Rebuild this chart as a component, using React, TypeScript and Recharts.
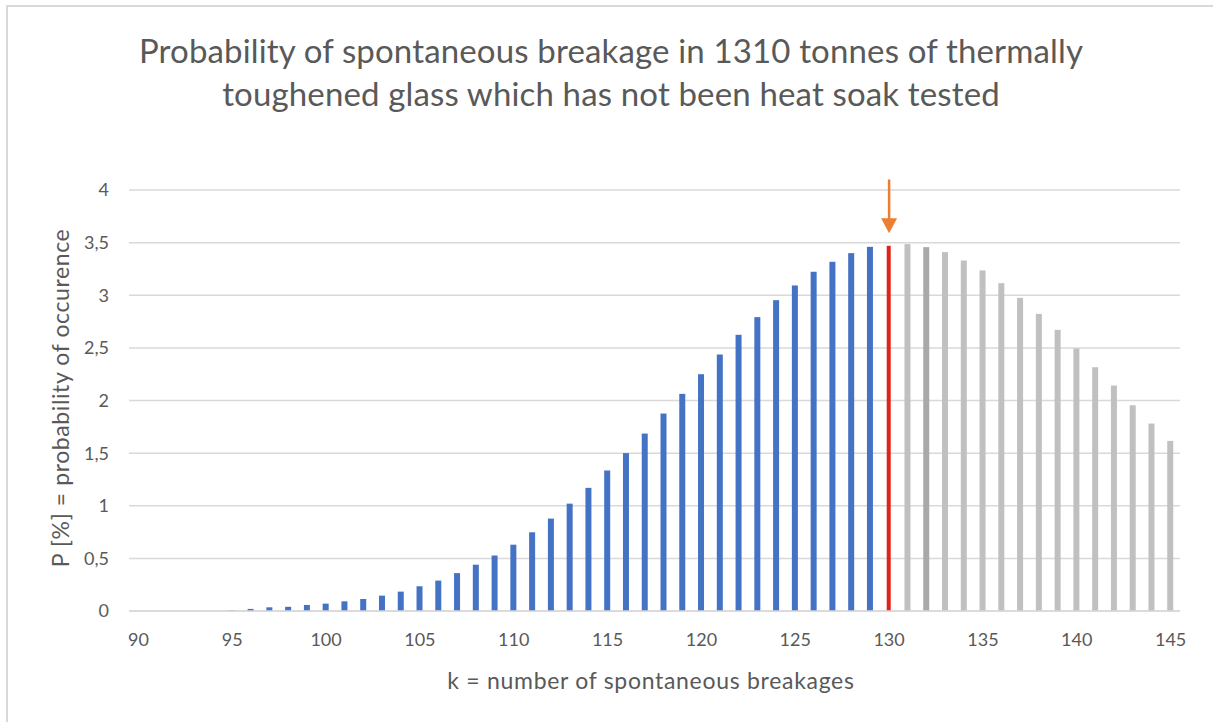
import React from "react";
import { BarChart, Bar, XAxis, YAxis, CartesianGrid, Cell, ReferenceLine } from "recharts";

const categories: number[] = [
  90, 91, 92, 93, 94, 95, 96, 97, 98, 99, 100, 101, 102, 103, 104, 105, 106, 107, 108, 109,
  110, 111, 112, 113, 114, 115, 116, 117, 118, 119, 120, 121, 122, 123, 124, 125, 126, 127, 128, 129,
  130, 131, 132, 133, 134, 135, 136, 137, 138, 139, 140, 141, 142, 143, 144, 145,
];

const probabilities: number[] = [
  0, 0, 0, 0, 0, 0.005, 0.02, 0.035, 0.04, 0.057, 0.07, 0.092, 0.114, 0.146, 0.184, 0.235, 0.289, 0.36, 0.44, 0.527,
  0.63, 0.748, 0.878, 1.02, 1.17, 1.335, 1.5, 1.686, 1.876, 2.063, 2.25, 2.437, 2.624, 2.792, 2.953, 3.093, 3.223, 3.318, 3.4, 3.46,
  3.47, 3.486, 3.457, 3.41, 3.33, 3.236, 3.115, 2.975, 2.823, 2.671, 2.494, 2.316, 2.142, 1.955, 1.781, 1.616,
];

const yTicks: number[] = [0, 0.5, 1, 1.5, 2, 2.5, 3, 3.5, 4];

const markedK = 130;
const darkGrayK = 132;
const arrowTop = 4.1;
const arrowTip = 3.59;

const titleLines: string[] = [
  "Probability of spontaneous breakage in 1310 tonnes of thermally",
  "toughened glass which has not been heat soak tested",
];
const xTitle = "k = number of spontaneous breakages";
const yTitle = "P [%] = probability of occurence";

const data = categories.map((k, i) => ({ k, p: probabilities[i] }));

const colorFor = (k: number) => {
  if (k < markedK) return "#4472C4";
  if (k === markedK) return "#E3211B";
  if (k === darkGrayK) return "#A9A9A9";
  return "#C0C0C0";
};

const FONT = "Lato, 'Open Sans', sans-serif";
const TEXT = "#595959";

const Arrow = (props: any) => {
  const { x1, y1, y2 } = props;
  const head = 15;
  return (
    <g>
      <line x1={x1} y1={y1} x2={x1} y2={y2 - head + 2} stroke="#ED7D31" strokeWidth={2.5} />
      <polygon points={`${x1 - 8},${y2 - head} ${x1 + 8},${y2 - head} ${x1},${y2}`} fill="#ED7D31" />
    </g>
  );
};

const BarShape = (props: any) => {
  const { x, y, width, height, fill, payload } = props;
  if (!height || height <= 0) return null;
  const w = payload && payload.k === markedK ? 4 : width;
  const cx = x + width / 2;
  return <rect x={cx - w / 2} y={y} width={w} height={height} fill={fill} />;
};

export default function App() {
  return (
    <div
      style={{
        position: "absolute",
        left: 0,
        top: 0,
        width: 1213,
        height: 722,
        background: "#ffffff",
        fontFamily: FONT,
        overflow: "hidden",
      }}
    >
      <div style={{ position: "absolute", left: 6, top: 5, width: 2, height: 717, background: "#D9D9D9" }} />
      <div style={{ position: "absolute", left: 6, top: 5, width: 1207, height: 2, background: "#D9D9D9" }} />
      {titleLines.map((t, i) => (
        <div
          key={i}
          style={{
            position: "absolute",
            left: 0,
            width: 1222,
            top: 30 + i * 43,
            textAlign: "center",
            fontSize: 33,
            letterSpacing: 0.15,
            lineHeight: "40px",
            color: TEXT,
            whiteSpace: "nowrap",
          }}
        >
          {t}
        </div>
      ))}
      <div style={{ position: "absolute", left: 0, top: 0 }}>
        <BarChart
          width={1213}
          height={722}
          data={data}
          margin={{ top: 190, right: 33, bottom: 71, left: 0 }}
          barCategoryGap={0}
        >
          <CartesianGrid vertical={false} stroke="#D9D9D9" strokeWidth={1.5} />
          <XAxis
            dataKey="k"
            interval={4}
            height={40}
            axisLine={{ stroke: "#D9D9D9", strokeWidth: 1.5 }}
            tickLine={false}
            tickSize={0}
            tickMargin={22}
            tick={{ fill: TEXT, fontSize: 18, fontFamily: FONT }}
          />
          <YAxis
            width={129}
            domain={[0, 4]}
            ticks={yTicks}
            interval={0}
            axisLine={false}
            tickLine={false}
            tickSize={0}
            tickMargin={20}
            tickFormatter={(v: number) => String(v).replace(".", ",")}
            tick={{ fill: TEXT, fontSize: 18, fontFamily: FONT }}
          />
          <Bar dataKey="p" barSize={6} isAnimationActive={false} shape={BarShape}>
            {data.map((d) => (
              <Cell key={d.k} fill={colorFor(d.k)} />
            ))}
          </Bar>
          <ReferenceLine
            segment={[
              { x: markedK, y: arrowTop },
              { x: markedK, y: arrowTip },
            ]}
            ifOverflow="visible"
            shape={Arrow}
          />
        </BarChart>
      </div>
      <div
        style={{
          position: "absolute",
          left: 401,
          width: 500,
          top: 666,
          textAlign: "center",
          fontSize: 23,
          letterSpacing: 0.7,
          color: TEXT,
          whiteSpace: "nowrap",
        }}
      >
        {xTitle}
      </div>
      <div
        style={{
          position: "absolute",
          left: 60 - 250,
          top: 398 - 15,
          width: 500,
          height: 30,
          lineHeight: "30px",
          textAlign: "center",
          fontSize: 23,
          letterSpacing: 0.6,
          color: TEXT,
          whiteSpace: "nowrap",
          transform: "rotate(-90deg)",
        }}
      >
        {yTitle}
      </div>
    </div>
  );
}
